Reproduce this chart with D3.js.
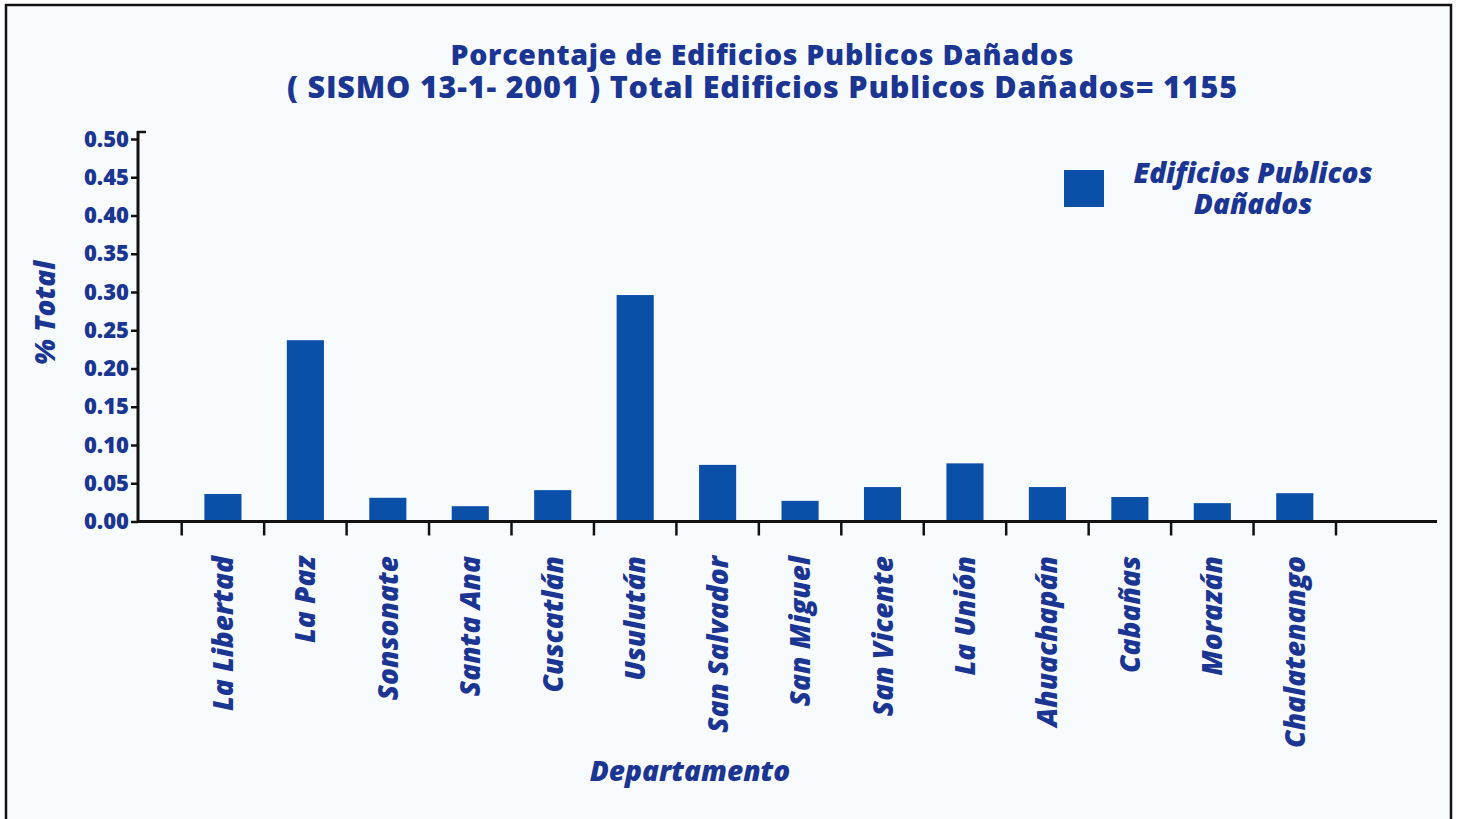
<!DOCTYPE html>
<html>
<head>
<meta charset="utf-8">
<script src="https://cdn.jsdelivr.net/npm/d3@7"></script>
<style>
  html, body { margin: 0; padding: 0; background: #ffffff; }
  svg { display: block; }
  text { font-family: "Open Sans", Lato, sans-serif; font-weight: 800; }
</style>
</head>
<body>
<svg id="chart" width="1459" height="819"></svg>
<script>
// Departamentos y porcentaje de edificios públicos dañados
const departamentos = ["La Libertad", "La Paz", "Sonsonate", "Santa Ana", "Cuscatlán", "Usulután",
  "San Salvador", "San Miguel", "San Vicente", "La Unión", "Ahuachapán", "Cabañas", "Morazán", "Chalatenango"];
const porcentajes = [0.036, 0.237, 0.031, 0.020, 0.041, 0.296, 0.074, 0.027, 0.045, 0.076, 0.045, 0.032, 0.024, 0.037];
const yTicks = [0.00, 0.05, 0.10, 0.15, 0.20, 0.25, 0.30, 0.35, 0.40, 0.45, 0.50];
const tituloLineas = ["Porcentaje de Edificios Publicos Dañados",
  "( SISMO 13-1- 2001 ) Total Edificios Publicos Dañados= 1155"];
const leyendaLineas = ["Edificios Publicos", "Dañados"];

const textColor = "#1b3592";
const barColor = "#0a4fa8";
const fontFam = "'Open Sans', Lato, sans-serif";

const svg = d3.select("#chart");

// panel with frame
svg.append("rect").attr("x", 0).attr("y", 0).attr("width", 1459).attr("height", 819).attr("fill", "#ffffff");
svg.append("rect").attr("x", 6).attr("y", 5).attr("width", 1445).attr("height", 830)
  .attr("fill", "#f8fbfd").attr("stroke", "#111").attr("stroke-width", 2.5);

const x = d3.scaleBand().domain(departamentos).range([181.7, 1336]).paddingInner(0.55).paddingOuter(0.275);
const y = d3.scaleLinear().domain([0, 0.5]).range([521.5, 139]);

// title
svg.append("g").selectAll("text").data(tituloLineas).join("text")
  .attr("x", 762).attr("y", (d, i) => 65 + i * 33)
  .attr("text-anchor", "middle").attr("fill", textColor)
  .attr("font-size", (d, i) => i === 0 ? 28.5 : 30.5)
  .attr("textLength", (d, i) => i === 0 ? 623 : 950)
  .attr("lengthAdjust", "spacing")
  .text(d => d);

// bars
svg.append("g").selectAll("rect").data(departamentos).join("rect")
  .attr("x", d => x(d))
  .attr("width", x.bandwidth())
  .attr("y", (d, i) => y(porcentajes[i]))
  .attr("height", (d, i) => y(0) - y(porcentajes[i]))
  .attr("fill", barColor);

// y axis
const yAxis = d3.axisLeft(y).tickValues(yTicks).tickFormat(d3.format(".2f")).tickSize(7).tickPadding(2);
const gy = svg.append("g").attr("transform", "translate(138,0)").call(yAxis);
gy.select(".domain").remove();
gy.selectAll(".tick line").attr("stroke", "#111").attr("stroke-width", 2.5);
gy.selectAll(".tick text").attr("fill", textColor).attr("font-size", 22)
  .attr("font-family", fontFam).attr("font-weight", 800);
svg.append("line").attr("x1", 138).attr("x2", 138).attr("y1", 131).attr("y2", 523)
  .attr("stroke", "#111").attr("stroke-width", 3);
svg.append("line").attr("x1", 137).attr("x2", 146).attr("y1", 132).attr("y2", 132)
  .attr("stroke", "#111").attr("stroke-width", 2.5);

// x axis: ticks mark the category boundaries
const boundaries = departamentos.map(d => x(d) - x.step() * x.paddingInner() / 2)
  .concat([x(departamentos[departamentos.length - 1]) + x.bandwidth() + x.step() * x.paddingInner() / 2]);
svg.append("line").attr("x1", 137).attr("x2", 1437).attr("y1", y(0)).attr("y2", y(0))
  .attr("stroke", "#111").attr("stroke-width", 3);
svg.append("g").selectAll("line").data(boundaries).join("line")
  .attr("x1", d => d).attr("x2", d => d).attr("y1", y(0)).attr("y2", y(0) + 14)
  .attr("stroke", "#111").attr("stroke-width", 2.5);

// category labels
svg.append("g").selectAll("text").data(departamentos).join("text")
  .attr("transform", d => `translate(${x(d) + x.bandwidth() / 2 + 10},556) rotate(-90)`)
  .attr("text-anchor", "end").attr("fill", textColor)
  .attr("font-size", 28).attr("font-style", "italic")
  .text(d => d);

// axis titles
svg.append("text").attr("transform", "translate(55,313) rotate(-90)")
  .attr("text-anchor", "middle").attr("fill", textColor)
  .attr("font-size", 28).attr("font-style", "italic").text("% Total");
svg.append("text").attr("x", 690).attr("y", 781)
  .attr("text-anchor", "middle").attr("fill", textColor)
  .attr("font-size", 28).attr("font-style", "italic").text("Departamento");

// legend
svg.append("rect").attr("x", 1064).attr("y", 170).attr("width", 40).attr("height", 37).attr("fill", barColor);
svg.append("g").selectAll("text").data(leyendaLineas).join("text")
  .attr("x", 1253).attr("y", (d, i) => 183 + i * 31)
  .attr("text-anchor", "middle").attr("fill", textColor)
  .attr("font-size", 28).attr("font-style", "italic")
  .text(d => d);
</script>
</body>
</html>
